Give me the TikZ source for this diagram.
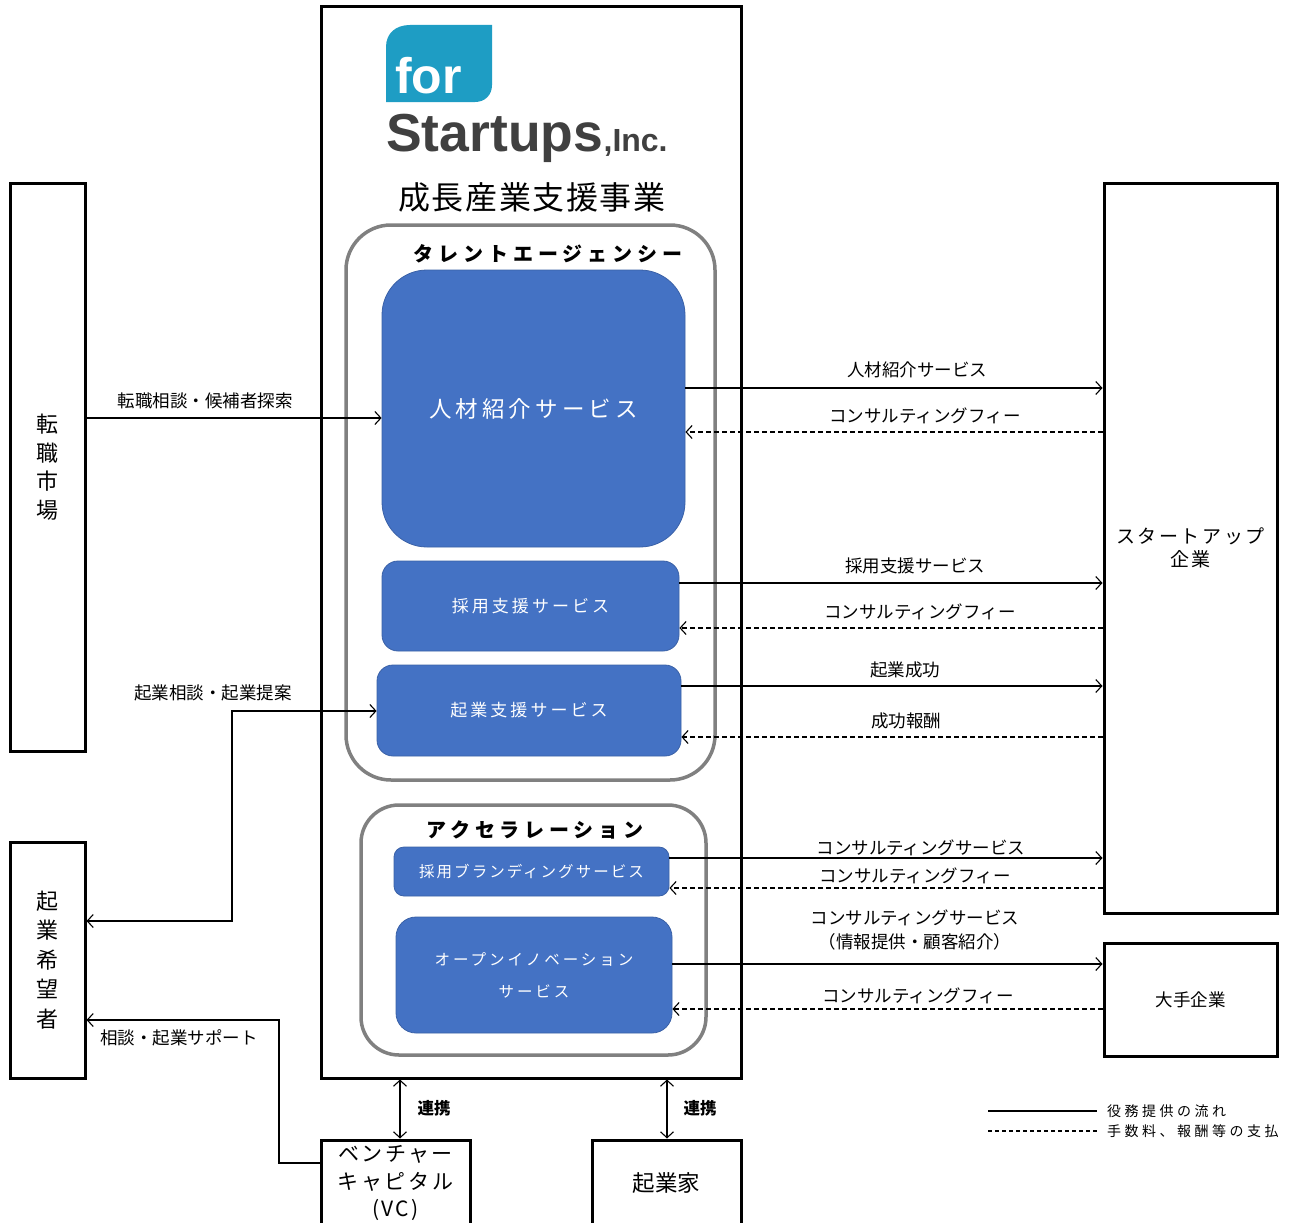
\documentclass[tikz,border=0pt]{standalone}
\usepackage{fontspec}
\setmainfont{Noto Sans CJK JP}
\newfontfamily\logofont{Liberation Sans}
\usetikzlibrary{arrows.meta}
\definecolor{tealc}{RGB}{30,157,196}
\definecolor{logogray}{RGB}{64,64,64}
\definecolor{svcblue}{RGB}{68,114,196}
\definecolor{grpgray}{RGB}{128,128,128}
\newcommand\ls[1]{\addfontfeature{LetterSpace=#1}}
\begin{document}
\begin{tikzpicture}[x=1pt,y=-1pt,
  box/.style={draw, line width=3pt, inner sep=0pt, align=center},
  grp/.style={draw=grpgray, line width=3.5pt, inner sep=0pt},
  svc/.style={fill=svcblue, draw=svcblue!85!black, line width=0.8pt, inner sep=0pt, text=white, align=center},
  conn/.style={line width=1.1pt, -{Straight Barb[length=6pt,width=13pt,line width=1.1pt]}},
  dconn/.style={line width=1.1pt, {Straight Barb[length=6pt,width=13pt,line width=1.1pt]}-{Straight Barb[length=6pt,width=13pt,line width=1.1pt]}},
  fee/.style={conn, dash pattern=on 5pt off 3pt},
  lbl/.style={font=\fontsize{17.5}{24}\selectfont, inner sep=0pt, align=center},
  lgd/.style={font=\fontsize{14}{16}\selectfont\ls{25}, inner sep=0pt, anchor=west}
]
\useasboundingbox[fill=white] (0,0) rectangle (1296,1223);

% main frame and outer boxes
\node[box, minimum width=420pt, minimum height=1071pt] (main) at (531,542.5) {};
\node[box, minimum width=75pt, minimum height=568pt, font=\fontsize{22}{28.5}\selectfont] (tm) at (47.5,467) {転\\職\\市\\場};
\node[box, minimum width=75pt, minimum height=236pt, font=\fontsize{22}{29.5}\selectfont] (kk) at (47.5,960) {起\\業\\希\\望\\者};
\node[box, minimum width=173pt, minimum height=730pt, font=\fontsize{19}{23}\selectfont\ls{14}] (su) at (1190.5,548) {スタートアップ\\企業};
\node[box, minimum width=173pt, minimum height=113pt, font=\fontsize{17.5}{20}\selectfont] (ot) at (1190.5,999.5) {大手企業};
\node[box, minimum width=149pt, minimum height=86pt, font=\fontsize{21}{27.5}\selectfont\ls{12}] (vc) at (395.5,1183) {ベンチャー\\キャピタル\\(VC)};
\node[box, minimum width=149pt, minimum height=86pt, font=\fontsize{22.5}{26}\selectfont] (ent) at (666.5,1183) {起業家};

% logo
\fill[tealc] (386,102) -- (386,47) .. controls (386,33) and (396,25) .. (410,25) -- (492,25) -- (492,85) .. controls (492,95) and (485,102) .. (475,102) -- cycle;
\node[anchor=base west, font=\logofont\bfseries\fontsize{50}{50}\selectfont, text=white, inner sep=0pt] (for) at (395,93) {for};
\node[anchor=base west, font=\logofont\bfseries\fontsize{53.5}{53}\selectfont, text=logogray, inner sep=0pt] (st) at (386,151) {Startups};
\node[anchor=base west, font=\logofont\bfseries\fontsize{32}{32}\selectfont, text=logogray, inner sep=0pt] (inc) at (st.base east) {,Inc.};

\node[font=\fontsize{32}{36}\selectfont\ls{5}, inner sep=0pt] (title) at (532,197) {成長産業支援事業};

% groups
\node[grp, rounded corners=45pt, minimum width=369pt, minimum height=555pt] (ta) at (530.5,502.5) {};
\node[grp, rounded corners=38pt, minimum width=345pt, minimum height=250pt] (ac) at (533.5,930) {};
\node[font=\fontsize{20}{24}\selectfont\bfseries\ls{25}, inner sep=0pt] (tat) at (548,254) {タレントエージェンシー};
\node[font=\fontsize{20}{24}\selectfont\bfseries\ls{24}, inner sep=0pt] (act) at (535,830) {アクセラレーション};

% services
\node[svc, rounded corners=45pt, minimum width=303pt, minimum height=277pt, font=\fontsize{22.5}{26}\selectfont\ls{18}] (jz) at (533.5,408.5) {人材紹介サービス};
\node[svc, rounded corners=16pt, minimum width=297pt, minimum height=90pt, font=\fontsize{17}{20}\selectfont\ls{18}] (ss) at (530.5,606) {採用支援サービス};
\node[svc, rounded corners=16pt, minimum width=304pt, minimum height=91pt, font=\fontsize{17}{20}\selectfont\ls{18}] (ks) at (529,710.5) {起業支援サービス};
\node[svc, rounded corners=10pt, minimum width=275pt, minimum height=49pt, font=\fontsize{15.5}{18}\selectfont\ls{13}] (br) at (531.5,871.5) {採用ブランディングサービス};
\node[svc, rounded corners=20pt, minimum width=276pt, minimum height=116pt, font=\fontsize{15.5}{32}\selectfont\ls{19}] (oi) at (534,975) {オープンイノベーション\\サービス};

% left connectors
\draw[conn] (tm.east |- 0,418) -- (jz.west |- 0,418);
\node[lbl] (l1) at (205,401) {転職相談・候補者探索};
\draw[dconn] (ks.west |- 0,711) -- (232,711) -- (232,921) -- (kk.east |- 0,921);
\node[lbl] (l2) at (213,693) {起業相談・起業提案};
\draw[conn] (vc.west |- 0,1163) -- (279,1163) -- (279,1020) -- (kk.east |- 0,1020);
\node[lbl] (l3) at (179,1038) {相談・起業サポート};

% right connectors
\draw[conn] (jz.east |- 0,388) -- (su.west |- 0,388);
\node[lbl] (r1) at (917,370) {人材紹介サービス};
\draw[fee] (su.west |- 0,432) -- (jz.east |- 0,432);
\node[lbl] (r2) at (925,416) {コンサルティングフィー};
\draw[conn] (ss.east |- 0,583) -- (su.west |- 0,583);
\node[lbl] (r3) at (915,566) {採用支援サービス};
\draw[fee] (su.west |- 0,628) -- (ss.east |- 0,628);
\node[lbl] (r4) at (920,612) {コンサルティングフィー};
\draw[conn] (ks.east |- 0,686) -- (su.west |- 0,686);
\node[lbl] (r5) at (905,670) {起業成功};
\draw[fee] (su.west |- 0,737) -- (ks.east |- 0,737);
\node[lbl] (r6) at (906,721) {成功報酬};
\draw[conn] (br.east |- 0,858) -- (su.west |- 0,858);
\node[lbl] (r7) at (921,848) {コンサルティングサービス};
\draw[fee] (su.west |- 0,888) -- (br.east |- 0,888);
\node[lbl] (r8) at (915,876) {コンサルティングフィー};
\draw[conn] (oi.east |- 0,964) -- (ot.west |- 0,964);
\node[lbl] (r9) at (915,930) {コンサルティングサービス\\（情報提供・顧客紹介）};
\draw[fee] (ot.west |- 0,1009) -- (oi.east |- 0,1009);
\node[lbl] (r10) at (918,996) {コンサルティングフィー};

% bottom links
\draw[dconn] (main.south -| 400,0) -- (vc.north -| 400,0);
\node[font=\fontsize{16.5}{18}\selectfont\bfseries, inner sep=0pt] (rk1) at (434,1108) {連携};
\draw[dconn] (main.south -| 667,0) -- (ent.north -| 667,0);
\node[font=\fontsize{16.5}{18}\selectfont\bfseries, inner sep=0pt] (rk2) at (700,1108) {連携};

% legend
\coordinate (lg1a) at (988,1111);
\coordinate (lg1b) at (1097,1111);
\coordinate (lg2a) at (988,1131);
\coordinate (lg2b) at (1097,1131);
\draw[line width=1.1pt] (lg1a) -- (lg1b);
\draw[line width=1.1pt, dash pattern=on 4pt off 3pt] (lg2a) -- (lg2b);
\node[lgd] (lgt1) at (1107,1111) {役務提供の流れ};
\node[lgd] (lgt2) at (1107,1131) {手数料、報酬等の支払};
\end{tikzpicture}
\end{document}
